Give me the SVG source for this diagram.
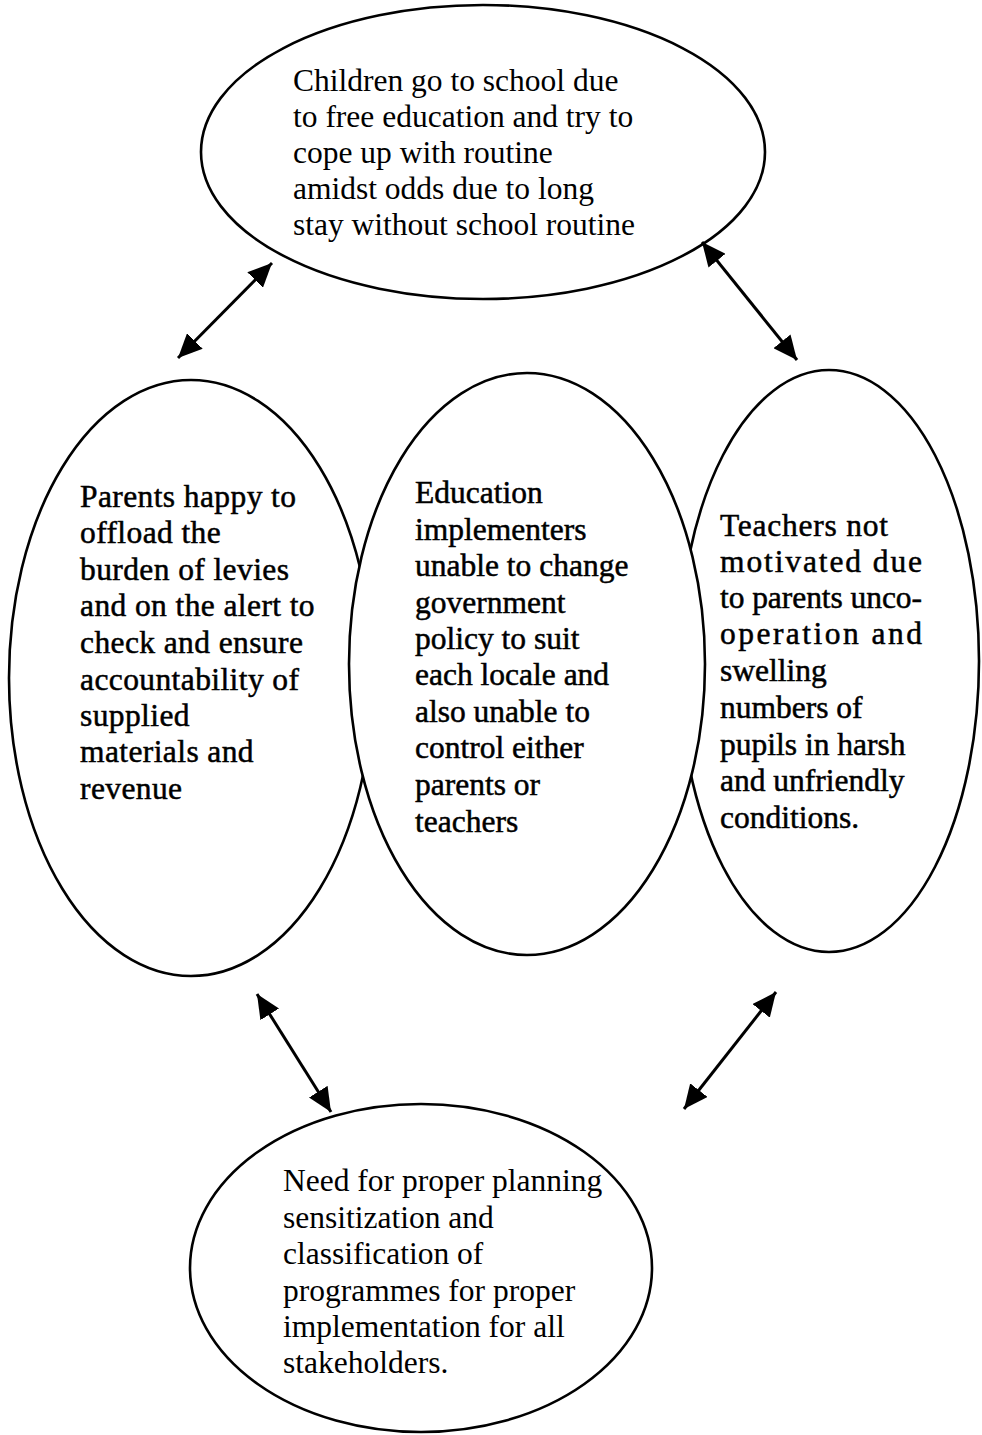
<svg xmlns="http://www.w3.org/2000/svg" width="982" height="1435" viewBox="0 0 982 1435">
<style>
  .shape { fill: #ffffff; stroke: #000000; stroke-width: 2.6; }
  .txt { font-family: "Liberation Serif", "Times New Roman", serif; font-size: 31.5px; fill: #000000; }
  .heavy { stroke: #000000; stroke-width: 0.5; }
  .wide { letter-spacing: 0.4px; }
  .conn { stroke: #000000; stroke-width: 3; fill: none; marker-start: url(#head); marker-end: url(#head); }
</style>
<defs>
  <marker id="head" markerUnits="userSpaceOnUse" markerWidth="26" markerHeight="22" refX="24" refY="11" orient="auto-start-reverse">
    <path d="M0,0 L24,11 L0,22 z" fill="#000000"/>
  </marker>
</defs>
<rect width="982" height="1435" fill="#ffffff"/>

<g id="node-children">
  <ellipse class="shape" cx="483" cy="152" rx="282" ry="147"/>
  <text class="txt">
    <tspan x="293" y="91">Children go to school due</tspan>
    <tspan x="293" y="127">to free education and try to</tspan>
    <tspan x="293" y="163">cope up with routine</tspan>
    <tspan x="293" y="199">amidst odds due to long</tspan>
    <tspan x="293" y="235">stay without school routine</tspan>
  </text>
</g>

<g id="node-planning">
  <ellipse class="shape" cx="421" cy="1268" rx="231" ry="164"/>
  <text class="txt">
    <tspan x="283" y="1191">Need for proper planning</tspan>
    <tspan x="283" y="1228">sensitization and</tspan>
    <tspan x="283" y="1264">classification of</tspan>
    <tspan x="283" y="1301">programmes for proper</tspan>
    <tspan x="283" y="1337">implementation for all</tspan>
    <tspan x="283" y="1373">stakeholders.</tspan>
  </text>
</g>

<g id="node-parents">
  <ellipse class="shape" cx="191" cy="678" rx="182" ry="298"/>
  <text class="txt heavy wide">
    <tspan x="80" y="507">Parents happy to</tspan>
    <tspan x="80" y="543">offload the</tspan>
    <tspan x="80" y="580">burden of levies</tspan>
    <tspan x="80" y="616">and on the alert to</tspan>
    <tspan x="80" y="653">check and ensure</tspan>
    <tspan x="80" y="690">accountability of</tspan>
    <tspan x="80" y="726">supplied</tspan>
    <tspan x="80" y="762">materials and</tspan>
    <tspan x="80" y="799">revenue</tspan>
  </text>
</g>

<g id="node-teachers">
  <ellipse class="shape" cx="829" cy="661" rx="150" ry="291"/>
  <text class="txt heavy">
    <tspan x="720" y="536" textLength="168" lengthAdjust="spacing">Teachers  not</tspan>
    <tspan x="720" y="572" textLength="202" lengthAdjust="spacing">motivated  due</tspan>
    <tspan x="720" y="608" textLength="202" lengthAdjust="spacing">to parents unco-</tspan>
    <tspan x="720" y="644" textLength="202" lengthAdjust="spacing">operation   and</tspan>
    <tspan x="720" y="681">swelling</tspan>
    <tspan x="720" y="718">numbers of</tspan>
    <tspan x="720" y="755">pupils in harsh</tspan>
    <tspan x="720" y="791">and unfriendly</tspan>
    <tspan x="720" y="828">conditions.</tspan>
  </text>
</g>

<g id="node-implementers">
  <ellipse class="shape" cx="527" cy="664" rx="178" ry="291"/>
  <text class="txt heavy">
    <tspan x="415" y="503">Education</tspan>
    <tspan x="415" y="540">implementers</tspan>
    <tspan x="415" y="576">unable to change</tspan>
    <tspan x="415" y="613">government</tspan>
    <tspan x="415" y="649">policy to suit</tspan>
    <tspan x="415" y="685">each locale and</tspan>
    <tspan x="415" y="722">also unable to</tspan>
    <tspan x="415" y="758">control either</tspan>
    <tspan x="415" y="795">parents or</tspan>
    <tspan x="415" y="832">teachers</tspan>
  </text>
</g>

<g id="connectors">
  <line class="conn" x1="178" y1="358" x2="272" y2="263"/>
  <line class="conn" x1="702" y1="242" x2="797" y2="360"/>
  <line class="conn" x1="257" y1="994" x2="331" y2="1112"/>
  <line class="conn" x1="776" y1="992" x2="684" y2="1109"/>
</g>
</svg>
